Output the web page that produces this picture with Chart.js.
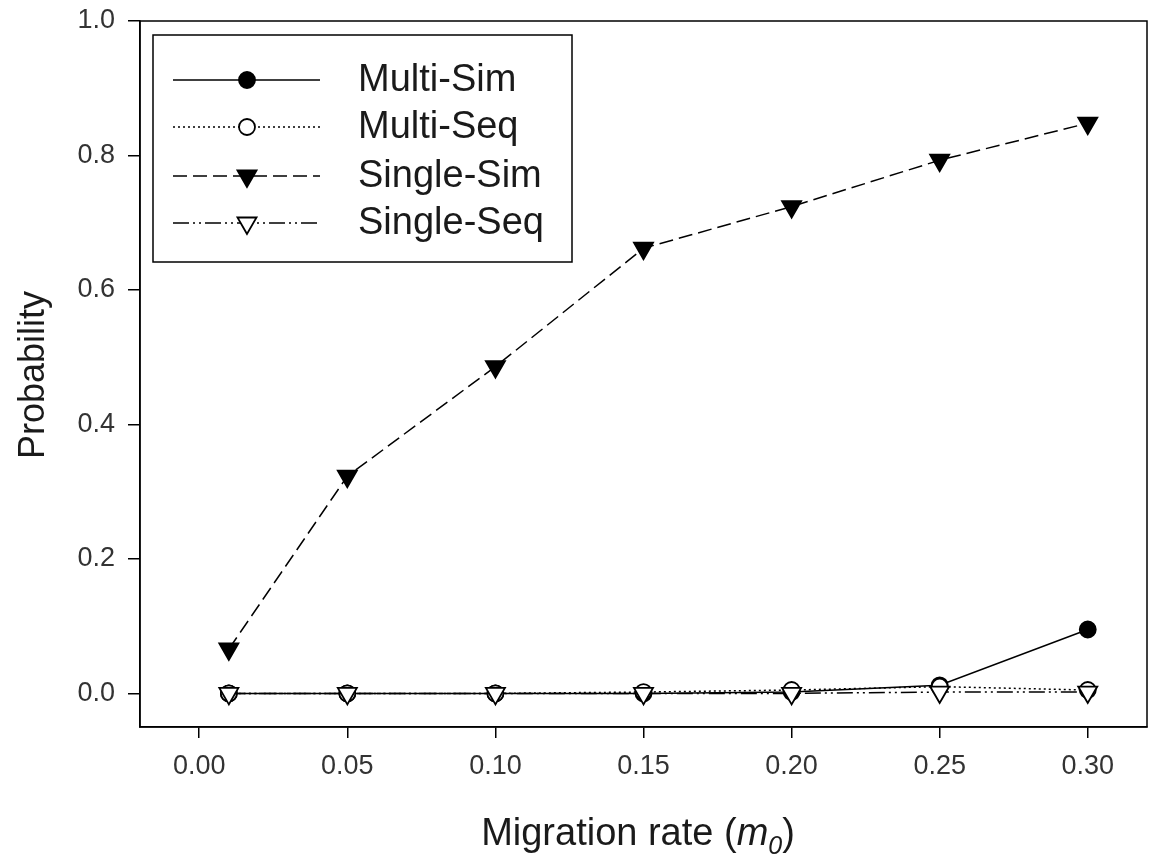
<!DOCTYPE html>
<html>
<head>
<meta charset="utf-8">
<script src="https://cdn.jsdelivr.net/npm/chart.js@4.4.1/dist/chart.umd.min.js"></script>
<style>
  html, body { margin: 0; padding: 0; background: #fff; }
  #wrap { width: 1150px; height: 861px; position: relative; }
</style>
</head>
<body>
<div id="wrap"><canvas id="chart" width="1150" height="861"></canvas></div>
<script>
// Data
const migrationRates = [0.01, 0.05, 0.10, 0.15, 0.20, 0.25, 0.30];
const multiSim = [0.0, 0.0, 0.0, 0.0, 0.002, 0.012, 0.095];
const multiSeq = [0.0, 0.0, 0.0, 0.002, 0.005, 0.01, 0.005];
const singleSim = [0.066, 0.323, 0.486, 0.662, 0.724, 0.793, 0.848];
const singleSeq = [0.0, 0.0, 0.0, 0.0, 0.0, 0.002, 0.002];

const xTicks = [0.00, 0.05, 0.10, 0.15, 0.20, 0.25, 0.30];
const xTickLabels = ["0.00", "0.05", "0.10", "0.15", "0.20", "0.25", "0.30"];
const yTicks = [0.0, 0.2, 0.4, 0.6, 0.8, 1.0];
const yTickLabels = ["0.0", "0.2", "0.4", "0.6", "0.8", "1.0"];

const seriesNames = ["Multi-Sim", "Multi-Seq", "Single-Sim", "Single-Seq"];

const FONT = "'Liberation Sans', Arial, sans-serif";

function toPoints(values) {
  return migrationRates.map((x, i) => ({ x: x, y: values[i] }));
}

const datasets = [
  {
    label: seriesNames[0],
    data: toPoints(multiSim),
    borderColor: "#000",
    backgroundColor: "#000",
    borderWidth: 1.5,
    borderDash: [],
    pointStyle: "circle",
    pointRadius: 8,
    pointRotation: 0,
    order: 4
  },
  {
    label: seriesNames[1],
    data: toPoints(multiSeq),
    borderColor: "#000",
    backgroundColor: "#fff",
    borderWidth: 1.5,
    borderDash: [2, 3],
    pointStyle: "circle",
    pointRadius: 8,
    pointRotation: 0,
    order: 3
  },
  {
    label: seriesNames[2],
    data: toPoints(singleSim),
    borderColor: "#000",
    backgroundColor: "#000",
    borderWidth: 1.5,
    borderDash: [14, 6],
    pointStyle: "triangle",
    pointRadius: 11,
    pointRotation: 180,
    order: 2
  },
  {
    label: seriesNames[3],
    data: toPoints(singleSeq),
    borderColor: "#000",
    backgroundColor: "#fff",
    borderWidth: 1.5,
    borderDash: [16, 4, 2, 4, 2, 4],
    pointStyle: "triangle",
    pointRadius: 11,
    pointRotation: 180,
    order: 1
  }
];

datasets.forEach(ds => {
  ds.pointBackgroundColor = ds.backgroundColor;
  ds.pointBorderColor = "#000";
  ds.pointBorderWidth = 1.8;
  ds.pointHoverRadius = ds.pointRadius;
  ds.tension = 0;
  ds.fill = false;
});

function drawMarker(ctx, ds, x, y) {
  ctx.save();
  ctx.setLineDash([]);
  ctx.lineWidth = 1.8;
  ctx.strokeStyle = "#000";
  ctx.fillStyle = ds.backgroundColor;
  ctx.beginPath();
  if (ds.pointStyle === "circle") {
    ctx.arc(x, y, ds.pointRadius, 0, Math.PI * 2);
  } else {
    const r = ds.pointRadius;
    for (let k = 0; k < 3; k++) {
      const a = Math.PI + k * 2 * Math.PI / 3;
      const px = x + Math.sin(a) * r;
      const py = y - Math.cos(a) * r;
      if (k === 0) ctx.moveTo(px, py); else ctx.lineTo(px, py);
    }
    ctx.closePath();
  }
  ctx.fill();
  ctx.stroke();
  ctx.restore();
}

// frame, legend box and axis titles
const decorations = {
  id: "decorations",
  afterDraw(chart) {
    const ctx = chart.ctx;
    const a = chart.chartArea;

    ctx.save();
    ctx.strokeStyle = "#000";
    ctx.lineWidth = 1.5;
    ctx.strokeRect(a.left, a.top, a.right - a.left, a.bottom - a.top);

    // legend
    ctx.fillStyle = "#fff";
    ctx.fillRect(153, 35, 419, 227);
    ctx.strokeRect(153, 35, 419, 227);
    const rowY = [80, 127, 176, 223];
    datasets.forEach((ds, i) => {
      const y = rowY[i];
      ctx.save();
      ctx.strokeStyle = "#000";
      ctx.lineWidth = 1.5;
      ctx.setLineDash(ds.borderDash);
      ctx.beginPath();
      ctx.moveTo(173, y);
      ctx.lineTo(320, y);
      ctx.stroke();
      ctx.restore();
      drawMarker(ctx, ds, 247, y);
      ctx.fillStyle = "#1a1a1a";
      ctx.font = "38px " + FONT;
      ctx.textBaseline = "middle";
      ctx.textAlign = "left";
      ctx.fillText(ds.label, 358, y + 1);
    });

    // y title
    ctx.fillStyle = "#1a1a1a";
    ctx.save();
    ctx.translate(44, 375);
    ctx.rotate(-Math.PI / 2);
    ctx.font = "36px " + FONT;
    ctx.textAlign = "center";
    ctx.textBaseline = "alphabetic";
    ctx.fillText("Probability", 0, 0);
    ctx.restore();

    // x title: Migration rate (m0) with italic m and subscript 0
    const base = 845;
    const parts = [
      { t: "Migration rate (", f: "38px " + FONT, dy: 0 },
      { t: "m", f: "italic 38px " + FONT, dy: 0 },
      { t: "0", f: "italic 25px " + FONT, dy: 9 },
      { t: ")", f: "38px " + FONT, dy: 0 }
    ];
    let total = 0;
    parts.forEach(p => { ctx.font = p.f; p.w = ctx.measureText(p.t).width; total += p.w; });
    let x = 638 - total / 2;
    ctx.textAlign = "left";
    ctx.textBaseline = "alphabetic";
    parts.forEach(p => {
      ctx.font = p.f;
      ctx.fillText(p.t, x, base + p.dy);
      x += p.w;
    });
    ctx.restore();
  }
};

new Chart(document.getElementById("chart"), {
  type: "line",
  data: { datasets: datasets },
  plugins: [decorations],
  options: {
    responsive: false,
    animation: false,
    events: [],
    layout: { autoPadding: false, padding: { top: 21, right: 3, left: 0, bottom: 0 } },
    plugins: {
      legend: { display: false },
      tooltip: { enabled: false }
    },
    scales: {
      x: {
        type: "linear",
        min: -0.02,
        max: 0.32,
        afterBuildTicks: axis => { axis.ticks = xTicks.map(v => ({ value: v })); },
        afterFit: axis => { axis.height = 134; axis.paddingLeft = 0; axis.paddingRight = 0; },
        ticks: {
          callback: (v, i) => xTickLabels[i],
          color: "#333",
          font: { family: FONT, size: 27 },
          padding: 12,
          maxRotation: 0,
          autoSkip: false
        },
        grid: { drawOnChartArea: false, drawTicks: true, tickLength: 11, color: "#000", lineWidth: 1.5 },
        border: { display: true, color: "#000", width: 1.5 }
      },
      y: {
        type: "linear",
        min: -0.05,
        max: 1.0,
        afterBuildTicks: axis => { axis.ticks = yTicks.map(v => ({ value: v })); },
        afterFit: axis => { axis.width = 140; axis.paddingTop = 0; axis.paddingBottom = 0; },
        ticks: {
          callback: (v, i) => yTickLabels[i],
          color: "#333",
          font: { family: FONT, size: 27 },
          padding: 13,
          autoSkip: false
        },
        grid: { drawOnChartArea: false, drawTicks: true, tickLength: 12, color: "#000", lineWidth: 1.5 },
        border: { display: true, color: "#000", width: 1.5 }
      }
    }
  }
});
</script>
</body>
</html>
